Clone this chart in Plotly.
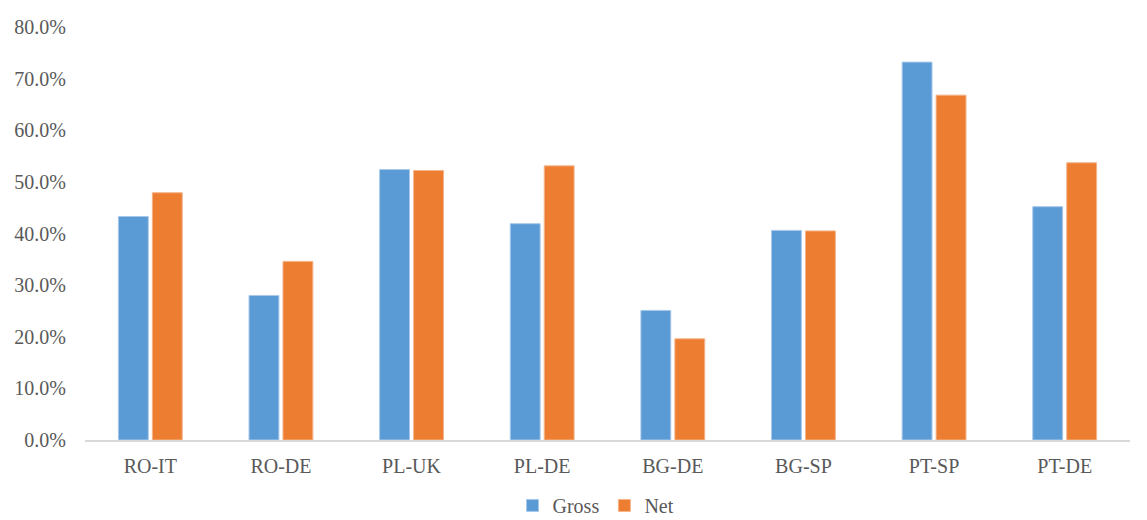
import plotly.graph_objects as go

categories = ["RO-IT", "RO-DE", "PL-UK", "PL-DE", "BG-DE", "BG-SP", "PT-SP", "PT-DE"]
gross = [0.433, 0.280, 0.524, 0.419, 0.251, 0.406, 0.732, 0.452]
net = [0.479, 0.346, 0.522, 0.531, 0.196, 0.405, 0.668, 0.537]
y_ticks = [0.0, 0.1, 0.2, 0.3, 0.4, 0.5, 0.6, 0.7, 0.8]

fig = go.Figure()
fig.add_trace(go.Bar(name="Gross", x=categories, y=gross,
                     marker=dict(color="#5b9bd5", line=dict(color="#a9c8ea", width=1))))
fig.add_trace(go.Bar(name="Net", x=categories, y=net,
                     marker=dict(color="#ed7d31", line=dict(color="#f5b48a", width=1))))

font = dict(family="Liberation Serif, Times New Roman, serif", size=20, color="#595959")
fig.update_layout(
    width=1147, height=520,
    margin=dict(l=85, r=17, t=27, b=80, autoexpand=False),
    paper_bgcolor="white", plot_bgcolor="white",
    barmode="group", bargap=0.48, bargroupgap=0.12,
    font=font,
    showlegend=True,
    legend=dict(orientation="h", x=0.489, xanchor="center", yref="container",
                y=0.028, yanchor="middle", font=font, traceorder="normal",
                itemwidth=30),
    xaxis=dict(showline=True, linecolor="#d9d9d9", linewidth=1.5, ticks="",
               tickfont=font, showgrid=False, ticklabelstandoff=7, automargin=False),
    yaxis=dict(range=[0, 0.8], tickvals=y_ticks, tickformat=".1%", showgrid=False,
               zeroline=False, showline=False, ticks="", tickfont=font,
               ticklabelstandoff=18, automargin=False),
)

fig.write_html("out.html")
